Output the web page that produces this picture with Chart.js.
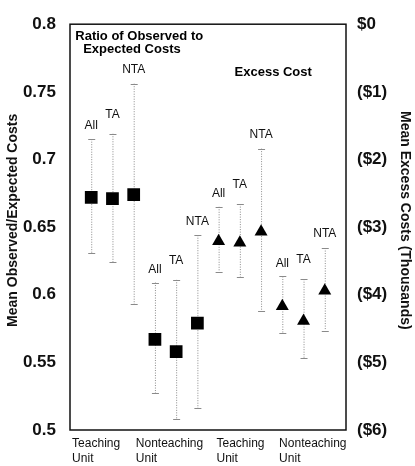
<!DOCTYPE html>
<html>
<head>
<meta charset="utf-8">
<script src="https://cdn.jsdelivr.net/npm/chart.js@4/dist/chart.umd.min.js"></script>
<style>
  html, body { margin: 0; padding: 0; background: #fff; }
  #wrap { width: 415px; height: 466px; }
</style>
</head>
<body>
<div id="wrap"><canvas id="costChart" width="415" height="466"></canvas></div>
<script>
// subsets shown in each unit group
const subsets = ['All', 'TA', 'NTA', 'All', 'TA', 'NTA'];

// ratio of observed to expected costs (left axis, squares)
const ratioMean = [0.672, 0.671, 0.674, 0.567, 0.558, 0.579];
const ratioUpper = [0.715, 0.719, 0.756, 0.609, 0.611, 0.644];
const ratioLower = [0.631, 0.624, 0.593, 0.527, 0.508, 0.516];

// excess cost in $ thousands (right axis, triangles)
const costMean = [-3.21, -3.23, -3.07, -4.17, -4.39, -3.94];
const costUpper = [-2.70, -2.66, -1.84, -3.73, -3.77, -3.31];
const costLower = [-3.66, -3.74, -4.24, -4.56, -4.94, -4.53];

// slot of each marker along the x axis
const ratioX = [1, 2, 3, 4, 5, 6];
const costX = [7, 8, 9, 10, 11, 12];

// x axis group labels
const groupTickX = [0.1, 3.1, 6.9, 9.85];
const groupTickLabels = [
  ['Teaching', 'Unit'],
  ['Nonteaching', 'Unit'],
  ['Teaching', 'Unit'],
  ['Nonteaching', 'Unit'],
];

// y axis ticks
const leftTickValues = [0.5, 0.55, 0.6, 0.65, 0.7, 0.75, 0.8];
const leftTickLabels = ['0.5', '0.55', '0.6', '0.65', '0.7', '0.75', '0.8'];
const rightTickValues = [-6, -5, -4, -3, -2, -1, 0];
const rightTickLabels = ['($6)', '($5)', '($4)', '($3)', '($2)', '($1)', '$0'];

const leftTitle = 'Mean Observed/Expected Costs';
const rightTitle = 'Mean Excess Costs (Thousands)';

const FONT = "'Liberation Sans', Arial, Helvetica, sans-serif";

// extra lift of the subset labels above the whisker cap
const labelLift = { All: 13, TA: 19, NTA: 14 };

const errorBars = {
  id: 'errorBars',
  beforeDatasetsDraw(chart) {
    const { ctx, scales } = chart;
    const x = scales.x;

    const drawSeries = (xs, upper, lower, yScale) => {
      xs.forEach((xv, i) => {
        const px = x.getPixelForValue(xv);
        const top = yScale.getPixelForValue(upper[i]);
        const bot = yScale.getPixelForValue(lower[i]);

        ctx.save();
        ctx.strokeStyle = '#8a8a8a';
        ctx.lineWidth = 1;
        ctx.setLineDash([1, 1.5]);
        ctx.beginPath();
        ctx.moveTo(px + 0.5, top);
        ctx.lineTo(px + 0.5, bot);
        ctx.stroke();
        ctx.setLineDash([]);
        ctx.beginPath();
        ctx.moveTo(px - 3, Math.round(top) + 0.5);
        ctx.lineTo(px + 4, Math.round(top) + 0.5);
        ctx.moveTo(px - 3, Math.round(bot) + 0.5);
        ctx.lineTo(px + 4, Math.round(bot) + 0.5);
        ctx.stroke();

        ctx.fillStyle = '#111';
        ctx.font = '12px ' + FONT;
        ctx.textAlign = 'center';
        ctx.textBaseline = 'middle';
        ctx.fillText(subsets[i], px, top - labelLift[subsets[i]]);
        ctx.restore();
      });
    };

    drawSeries(ratioX, ratioUpper, ratioLower, scales.y);
    drawSeries(costX, costUpper, costLower, scales.y2);
  },
  afterDraw(chart) {
    const { ctx, chartArea, scales } = chart;
    ctx.save();
    ctx.strokeStyle = '#111';
    ctx.lineWidth = 1.5;
    ctx.strokeRect(chartArea.left, chartArea.top, chartArea.right - chartArea.left, chartArea.bottom - chartArea.top);

    ctx.fillStyle = '#000';
    ctx.font = 'bold 13px ' + FONT;
    ctx.textAlign = 'left';
    ctx.textBaseline = 'middle';
    ctx.fillText('Ratio of Observed to', scales.x.getPixelForValue(0.25), scales.y.getPixelForValue(0.791));
    ctx.fillText('Expected Costs', scales.x.getPixelForValue(0.62), scales.y.getPixelForValue(0.7815));
    ctx.fillText('Excess Cost', scales.x.getPixelForValue(7.75), scales.y2.getPixelForValue(-0.71));

    // axis titles, a little above the middle of the plot as in the original
    const midY = scales.y.getPixelForValue(0.655);
    ctx.fillStyle = '#111';
    ctx.font = 'bold 14px ' + FONT;
    ctx.textAlign = 'center';
    ctx.textBaseline = 'alphabetic';

    ctx.save();
    ctx.translate(17, midY);
    ctx.rotate(-Math.PI / 2);
    ctx.fillText(leftTitle, 0, 0);
    ctx.restore();

    ctx.save();
    ctx.translate(chart.width - 14, midY);
    ctx.rotate(Math.PI / 2);
    ctx.fillText(rightTitle, 0, 0);
    ctx.restore();

    ctx.restore();
  },
};

new Chart(document.getElementById('costChart'), {
  type: 'scatter',
  data: {
    datasets: [
      {
        label: 'Observed/Expected',
        data: ratioX.map((xv, i) => ({ x: xv, y: ratioMean[i] })),
        yAxisID: 'y',
        pointStyle: 'rect',
        pointRadius: 9,
        backgroundColor: '#000',
        borderColor: '#000',
        borderWidth: 0,
      },
      {
        label: 'Excess Cost',
        data: costX.map((xv, i) => ({ x: xv, y: costMean[i] })),
        yAxisID: 'y2',
        pointStyle: 'triangle',
        pointRadius: 7.5,
        backgroundColor: '#000',
        borderColor: '#000',
        borderWidth: 0,
      },
    ],
  },
  options: {
    responsive: false,
    animation: false,
    layout: { padding: { top: 10 } },
    plugins: {
      legend: { display: false },
      tooltip: { enabled: false },
    },
    scales: {
      x: {
        type: 'linear',
        min: 0,
        max: 13,
        grid: { display: false, drawTicks: false },
        border: { display: false },
        afterBuildTicks: axis => {
          axis.ticks = groupTickX.map(v => ({ value: v }));
        },
        afterFit: axis => {
          axis.height = 36;
        },
        ticks: {
          align: 'start',
          padding: 6,
          maxRotation: 0,
          autoSkip: false,
          color: '#111',
          font: { family: FONT, size: 12, lineHeight: 1.25 },
          callback: (v, i) => groupTickLabels[i],
        },
      },
      y: {
        position: 'left',
        min: 0.5,
        max: 0.8,
        grid: { display: false, drawTicks: false },
        border: { display: false },
        afterBuildTicks: axis => {
          axis.ticks = leftTickValues.map(v => ({ value: v }));
        },
        afterFit: axis => {
          axis.width = 70;
        },
        ticks: {
          padding: 14,
          color: '#111',
          font: { family: FONT, size: 17, weight: 'bold' },
          callback: (v, i) => leftTickLabels[i],
        },
      },
      y2: {
        position: 'right',
        min: -6,
        max: 0,
        grid: { display: false, drawTicks: false },
        border: { display: false },
        afterBuildTicks: axis => {
          axis.ticks = rightTickValues.map(v => ({ value: v }));
        },
        afterFit: axis => {
          axis.width = 69;
        },
        ticks: {
          padding: 11,
          color: '#111',
          font: { family: FONT, size: 17, weight: 'bold' },
          callback: (v, i) => rightTickLabels[i],
        },
      },
    },
  },
  plugins: [errorBars],
});
</script>
</body>
</html>
